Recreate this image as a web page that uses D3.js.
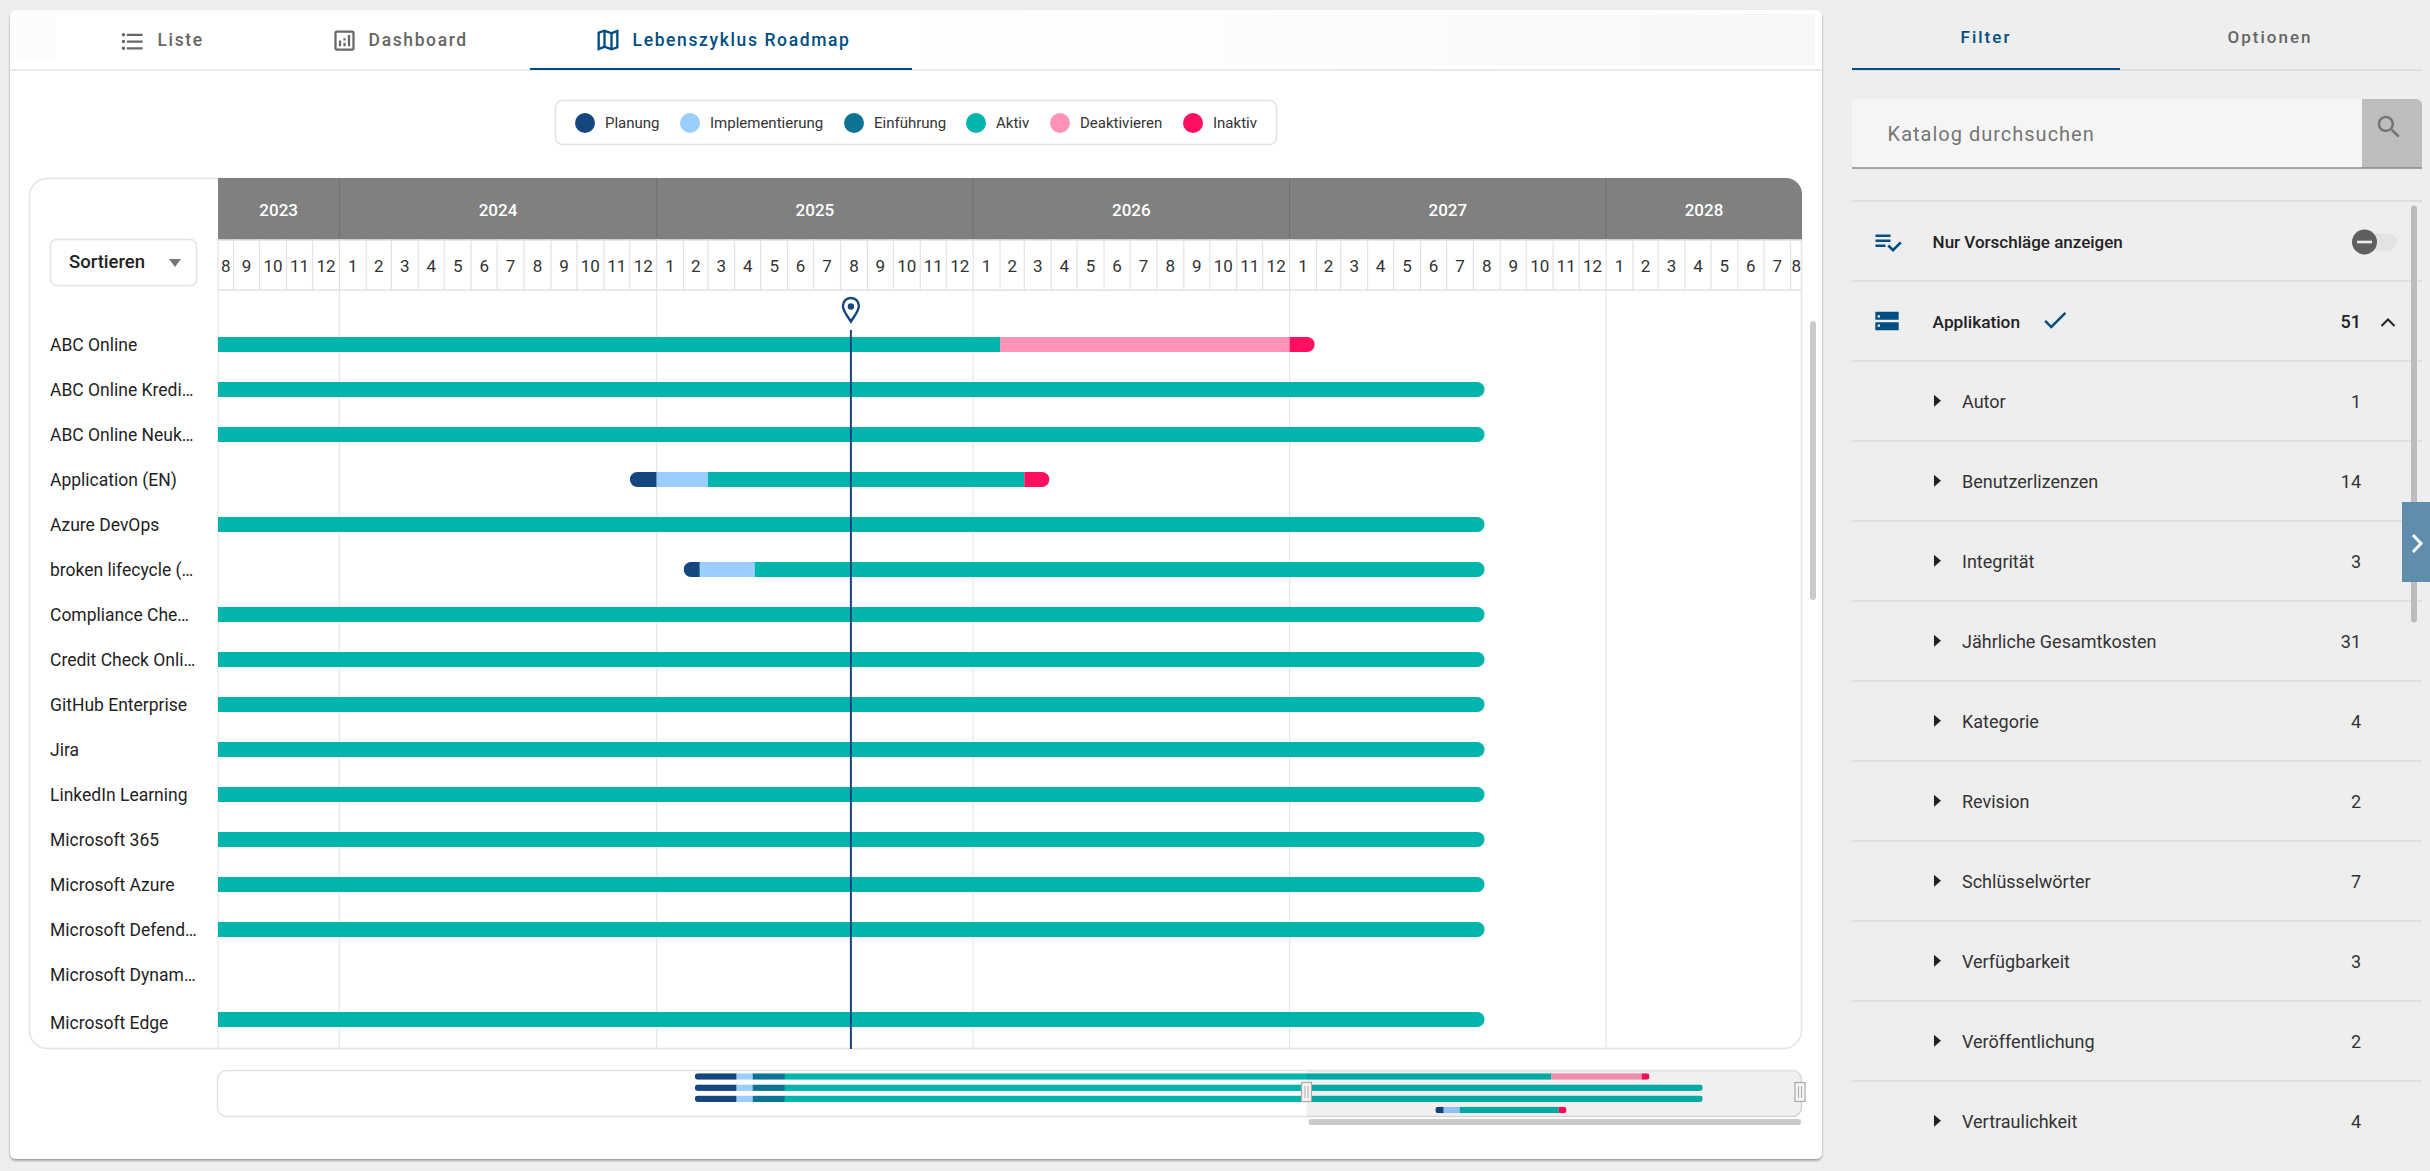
<!DOCTYPE html>
<html>
<head>
  <meta charset="utf-8">
  <title>Lebenszyklus Roadmap</title>
  <style>
    html, body { margin: 0; padding: 0; background: #eeeeee; overflow: hidden; }
    svg { display: block; font-family: Roboto, sans-serif; }
  </style>
</head>
<body>
  <div id="chart"></div>
  <script src="https://cdn.jsdelivr.net/npm/d3@7"></script>
  <script type="text/javascript">
    var w = 2430;
    var h = 1171;

    // ---- data ----
    var phaseNames = ["Planung", "Implementierung", "Einführung", "Aktiv", "Deaktivieren", "Inaktiv"];
    var rowLabels = ["ABC Online", "ABC Online Kredi…", "ABC Online Neuk…", "Application (EN)", "Azure DevOps",
      "broken lifecycle (…", "Compliance Che…", "Credit Check Onli…", "GitHub Enterprise", "Jira",
      "LinkedIn Learning", "Microsoft 365", "Microsoft Azure", "Microsoft Defend…", "Microsoft Dynam…", "Microsoft Edge"];
    var earlyLife = [["Planung", "2017-06-11"], ["Implementierung", "2017-11-12"], ["Einführung", "2018-01-10"]];
    var lifecycles = [
      earlyLife.concat([["Aktiv", "2018-05-09"], ["Deaktivieren", "2026-02-01"], ["Inaktiv", "2027-01-01"]]),
      earlyLife.concat([["Aktiv", "2018-05-09"]]),
      earlyLife.concat([["Aktiv", "2018-05-09"]]),
      [["Planung", "2024-12-01"], ["Implementierung", "2025-01-01"], ["Aktiv", "2025-03-01"], ["Inaktiv", "2026-03-01"]],
      [["Aktiv", "2022-06-01"]],
      [["Planung", "2025-02-01"], ["Einführung", "2025-02-19"], ["Implementierung", "2025-02-20"], ["Aktiv", "2025-04-24"]],
      [["Aktiv", "2022-06-01"]],
      [["Aktiv", "2022-06-01"]],
      [["Aktiv", "2022-06-01"]],
      [["Aktiv", "2022-06-01"]],
      [["Aktiv", "2022-06-01"]],
      [["Aktiv", "2022-06-01"]],
      [["Aktiv", "2022-06-01"]],
      [["Aktiv", "2022-06-01"]],
      [],
      [["Aktiv", "2022-06-01"]]
    ];
    // end of the last phase of each row
    var lifecycleEnds = ["2027-01-30", "2027-08-14", "2027-08-14", "2026-03-30", "2027-08-14", "2027-08-14", "2027-08-14",
      "2027-08-14", "2027-08-14", "2027-08-14", "2027-08-14", "2027-08-14", "2027-08-14", "2027-08-14", null, "2027-08-14"];
    var viewStart = "2023-08-14";
    var viewEnd = "2028-08-14";
    var overviewStart = "2012-08-14";
    var today = "2025-08-13";
    var years = [2023, 2024, 2025, 2026, 2027, 2028];
    var monthLabels = ["1", "2", "3", "4", "5", "6", "7", "8", "9", "10", "11", "12"];

    var tabLabels = ["Liste", "Dashboard", "Lebenszyklus Roadmap"];
    var sideTabs = ["Filter", "Optionen"];
    var filterLabels = ["Autor", "Benutzerlizenzen", "Integrität", "Jährliche Gesamtkosten", "Kategorie",
      "Revision", "Schlüsselwörter", "Verfügbarkeit", "Veröffentlichung", "Vertraulichkeit"];
    var filterCounts = [1, 14, 3, 31, 4, 2, 7, 3, 2, 4];

    // ---- helpers ----
    var parse = d3.utcParse("%Y-%m-%d");
    var navy = "#15467f";
    var blue = "#004e82";

    var svg = d3.select("#chart")
      .append("svg")
      .attr("width", w)
      .attr("height", h);

    var defs = svg.append("defs");

    var color = d3.scaleOrdinal()
      .domain(phaseNames)
      .range(["#15467f", "#9bceff", "#0e7392", "#01b5ad", "#ff94b8", "#ff0f5f"]);

    // expands a lifecycle into [{phase, start, end}]
    function segments(i) {
      return lifecycles[i].map(function(d, j) {
        var next = j + 1 < lifecycles[i].length ? lifecycles[i][j + 1][1] : lifecycleEnds[i];
        return { phase: d[0], start: parse(d[1]), end: parse(next) };
      });
    }

    var clipCount = 0;
    function drawRow(g, i, x, yMid, barH, rx) {
      var segs = segments(i);
      if (!segs.length) return;
      var id = "bar" + (clipCount++);
      defs.append("clipPath").attr("id", id)
        .append("rect")
        .attr("x", x(segs[0].start))
        .attr("y", yMid - barH / 2)
        .attr("width", x(segs[segs.length - 1].end) - x(segs[0].start))
        .attr("height", barH)
        .attr("rx", rx);
      g.append("g").attr("clip-path", "url(#" + id + ")")
        .selectAll("rect")
        .data(segs)
        .enter()
        .append("rect")
        .attr("x", function(d) { return x(d.start); })
        .attr("y", yMid - barH / 2)
        .attr("width", function(d) { return x(d.end) - x(d.start); })
        .attr("height", barH)
        .attr("fill", function(d) { return color(d.phase); });
    }

    function icon(path, x, y, size, fill) {
      svg.append("path")
        .attr("d", path)
        .attr("transform", "translate(" + x + "," + y + ") scale(" + size / 24 + ")")
        .attr("fill", fill);
    }

    // ---- card ----
    defs.append("filter").attr("id", "cardShadow")
      .attr("x", "-2%").attr("y", "-2%").attr("width", "104%").attr("height", "104%")
      .append("feDropShadow")
      .attr("dx", 0).attr("dy", 1.5).attr("stdDeviation", 1)
      .attr("flood-color", "#000").attr("flood-opacity", 0.4);

    svg.append("rect")
      .attr("x", 10).attr("y", 10).attr("width", 1812).attr("height", 1149)
      .attr("rx", 6).attr("fill", "#fff").attr("filter", "url(#cardShadow)");

    // faint blurred leftovers in the tab bar
    var fade = defs.append("linearGradient").attr("id", "tabFade");
    fade.append("stop").attr("offset", "0%").attr("stop-color", "#fafafa").attr("stop-opacity", 0);
    fade.append("stop").attr("offset", "100%").attr("stop-color", "#f7f7f7").attr("stop-opacity", 1);
    svg.append("rect").attr("x", 920).attr("y", 14).attr("width", 895).attr("height", 52).attr("fill", "url(#tabFade)");
    svg.append("rect").attr("x", 14).attr("y", 16).attr("width", 42).attr("height", 44).attr("fill", "#fcfcfc");

    // ---- tabs ----
    svg.append("line").attr("x1", 10).attr("x2", 1822).attr("y1", 70).attr("y2", 70)
      .attr("stroke", "#e3e3e3").attr("stroke-width", 1.5);
    svg.append("rect").attr("x", 530).attr("y", 68).attr("width", 382).attr("height", 2).attr("fill", blue);

    var tabX = [157.5, 368.6, 632.6];
    svg.selectAll("text.tab")
      .data(tabLabels)
      .enter()
      .append("text")
      .attr("class", "tab")
      .attr("x", function(d, i) { return tabX[i]; })
      .attr("y", 40)
      .attr("dy", "0.35em")
      .attr("font-size", 17.5)
      .attr("font-weight", 500)
      .attr("letter-spacing", 1.62)
      .attr("fill", function(d, i) { return i === 2 ? blue : "#666"; })
      .text(function(d) { return d; });

    icon("M4 10.5c-.83 0-1.5.67-1.5 1.5s.67 1.5 1.5 1.5 1.5-.67 1.5-1.5-.67-1.5-1.5-1.5zm0-6c-.83 0-1.5.67-1.5 1.5S3.17 7.5 4 7.5 5.5 6.83 5.5 6 4.83 4.5 4 4.5zm0 12c-.83 0-1.5.68-1.5 1.5s.68 1.5 1.5 1.5 1.5-.68 1.5-1.5-.67-1.5-1.5-1.5zM7 19h14v-2H7v2zm0-6h14v-2H7v2zm0-8v2h14V5H7z", 119, 28, 27, "#666");
    icon("M9 17H7v-5h2v5zm4 0h-2v-3h2v3zm0-5h-2v-2h2v2zm4 5h-2V7h2v10zm2 2H5V5h14v14zm0-16H5c-1.1 0-2 .9-2 2v14c0 1.1.9 2 2 2h14c1.1 0 2-.9 2-2V5c0-1.1-.9-2-2-2z", 331, 27, 27, "#666");
    icon("M20.5 3l-.16.03L15 5.1 9 3 3.36 4.9c-.21.07-.36.25-.36.48V20.5c0 .28.22.5.5.5l.16-.03L9 18.9l6 2.1 5.64-1.9c.21-.07.36-.25.36-.48V3.5c0-.28-.22-.5-.5-.5zM10 5.47l4 1.4v11.66l-4-1.4V5.47zm-5 .99l3-1.01v11.7l-3 1.16V6.46zm14 11.08l-3 1.01V6.86l3-1.16v11.84z", 594, 26, 28, blue);

    // ---- legend ----
    svg.append("rect")
      .attr("x", 555.5).attr("y", 100.5).attr("width", 721).attr("height", 44)
      .attr("rx", 7).attr("fill", "#fff").attr("stroke", "#e2e2e2").attr("stroke-width", 1.5);

    var legendX = [585, 690, 854, 976, 1060, 1193];
    var legend = svg.selectAll("g.legend")
      .data(phaseNames)
      .enter()
      .append("g")
      .attr("class", "legend")
      .attr("transform", function(d, i) { return "translate(" + legendX[i] + ",123)"; });
    legend.append("circle").attr("r", 10).attr("fill", function(d) { return color(d); });
    legend.append("text")
      .attr("x", 20)
      .attr("dy", "0.35em")
      .attr("font-size", 15)
      .attr("fill", "#333")
      .text(function(d) { return d; });

    // ---- chart frame ----
    var plotLeft = 218, plotRight = 1802, plotTop = 178, yearBottom = 239, monthBottom = 290, plotBottom = 1049;

    svg.append("rect")
      .attr("x", 29.5).attr("y", 178.5).attr("width", 1772).attr("height", 870)
      .attr("rx", 18).attr("fill", "#fff").attr("stroke", "#e4e4e4").attr("stroke-width", 1.5);

    var x = d3.scaleUtc().domain([parse(viewStart), parse(viewEnd)]).range([plotLeft, plotRight]);

    defs.append("clipPath").attr("id", "plotClip")
      .append("rect").attr("x", plotLeft).attr("y", plotTop).attr("width", plotRight - plotLeft).attr("height", plotBottom - plotTop);

    // year band: square on the left, rounded on the top right
    var r = 16;
    var yearPath = d3.path();
    yearPath.moveTo(plotLeft, plotTop);
    yearPath.lineTo(plotRight - r, plotTop);
    yearPath.arcTo(plotRight, plotTop, plotRight, plotTop + r, r);
    yearPath.lineTo(plotRight, yearBottom);
    yearPath.lineTo(plotLeft, yearBottom);
    yearPath.closePath();
    svg.append("path").attr("d", yearPath.toString()).attr("fill", "#808080");

    function yearSpan(y) {
      var a = new Date(Date.UTC(y, 0, 1)), b = new Date(Date.UTC(y + 1, 0, 1));
      var dom = x.domain();
      return [a < dom[0] ? dom[0] : a, b > dom[1] ? dom[1] : b];
    }

    svg.selectAll("text.year")
      .data(years)
      .enter()
      .append("text")
      .attr("class", "year")
      .attr("x", function(d) { var s = yearSpan(d); return (x(s[0]) + x(s[1])) / 2; })
      .attr("y", (plotTop + yearBottom) / 2 + 2)
      .attr("dy", "0.35em")
      .attr("text-anchor", "middle")
      .attr("font-size", 17)
      .attr("font-weight", 500)
      .attr("fill", "#fff")
      .text(function(d) { return d; });

    var yearStarts = years.slice(1).map(function(d) { return new Date(Date.UTC(d, 0, 1)); });

    svg.selectAll("line.yearSep")
      .data(yearStarts)
      .enter()
      .append("line")
      .attr("class", "yearSep")
      .attr("x1", function(d) { return x(d); })
      .attr("x2", function(d) { return x(d); })
      .attr("y1", plotTop)
      .attr("y2", yearBottom)
      .attr("stroke", "#6f6f6f");

    // months
    var monthStarts = [x.domain()[0]].concat(d3.utcMonth.range(x.domain()[0], x.domain()[1]));
    var months = monthStarts.map(function(d, i) {
      var end = i + 1 < monthStarts.length ? monthStarts[i + 1] : x.domain()[1];
      return { start: d, end: end, label: monthLabels[d.getUTCMonth()] };
    });

    svg.append("rect").attr("x", plotLeft).attr("y", yearBottom).attr("width", plotRight - plotLeft).attr("height", 1.5).attr("fill", "#cfcfcf");

    svg.selectAll("line.monthSep")
      .data(months)
      .enter()
      .append("line")
      .attr("class", "monthSep")
      .attr("x1", function(d) { return x(d.start); })
      .attr("x2", function(d) { return x(d.start); })
      .attr("y1", yearBottom)
      .attr("y2", monthBottom)
      .attr("stroke", "#e3e3e3")
      .attr("stroke-width", 1.2);

    svg.selectAll("text.month")
      .data(months)
      .enter()
      .append("text")
      .attr("class", "month")
      .attr("x", function(d) { return (x(d.start) + x(d.end)) / 2; })
      .attr("y", 266)
      .attr("dy", "0.35em")
      .attr("text-anchor", "middle")
      .attr("font-size", 17)
      .attr("fill", "#333")
      .text(function(d) { return d.label; });

    svg.append("line").attr("x1", plotLeft).attr("x2", plotRight).attr("y1", monthBottom).attr("y2", monthBottom)
      .attr("stroke", "#e0e0e0").attr("stroke-width", 1.5);

    // grid
    svg.selectAll("line.grid")
      .data(yearStarts)
      .enter()
      .append("line")
      .attr("class", "grid")
      .attr("x1", function(d) { return x(d); })
      .attr("x2", function(d) { return x(d); })
      .attr("y1", monthBottom)
      .attr("y2", plotBottom)
      .attr("stroke", "#e6e6e6")
      .attr("stroke-width", 1.2);
    svg.append("line").attr("x1", plotLeft).attr("x2", plotLeft).attr("y1", monthBottom).attr("y2", plotBottom)
      .attr("stroke", "#e6e6e6").attr("stroke-width", 1.2);

    // sort control
    svg.append("rect")
      .attr("x", 50.5).attr("y", 239.5).attr("width", 146).attr("height", 46)
      .attr("rx", 6).attr("fill", "#fff").attr("stroke", "#e4e4e4").attr("stroke-width", 1.5);
    svg.append("text")
      .attr("x", 69).attr("y", 262).attr("dy", "0.35em")
      .attr("font-size", 18.5).attr("font-weight", 500).attr("fill", "#222")
      .text("Sortieren");
    svg.append("path").attr("d", "M169 259h12l-6 8z").attr("fill", "#777");

    // ---- rows ----
    var y = d3.scalePoint().domain(d3.range(rowLabels.length)).range([344.5, 1019.5]);

    svg.selectAll("text.row")
      .data(rowLabels)
      .enter()
      .append("text")
      .attr("class", "row")
      .attr("x", 50)
      .attr("y", function(d, i) { return y(i) + (i === rowLabels.length - 1 ? 3.5 : 0); })
      .attr("dy", "0.35em")
      .attr("font-size", 17.5)
      .attr("fill", "#1f1f1f")
      .text(function(d) { return d; });

    var bars = svg.append("g").attr("clip-path", "url(#plotClip)");
    rowLabels.forEach(function(d, i) {
      drawRow(bars, i, x, y(i), 15, 7.5);
    });

    // today marker
    var todayX = x(parse(today));
    svg.append("line")
      .attr("x1", todayX).attr("x2", todayX).attr("y1", 330).attr("y2", plotBottom)
      .attr("stroke", navy).attr("stroke-width", 2);
    svg.append("path")
      .attr("transform", "translate(" + todayX + ",298)")
      .attr("d", "M0 0C-4.9 0-8 3.6-8 8C-8 13-2.5 19.5 0 23.5C2.5 19.5 8 13 8 8C8 3.6 4.9 0 0 0Z")
      .attr("fill", "none")
      .attr("stroke", navy)
      .attr("stroke-width", 2.4);
    svg.append("circle").attr("cx", todayX).attr("cy", 306.5).attr("r", 3.2).attr("fill", navy);

    // ---- overview strip ----
    var miniRows = d3.range(4);
    var miniX = d3.scaleUtc().domain([parse(overviewStart), parse(viewEnd)]).range([plotLeft - 1, plotRight]);
    var miniY = d3.scalePoint().domain(miniRows).range([1076.5, 1110]);

    svg.append("rect")
      .attr("x", 217.5).attr("y", 1070.5).attr("width", 1584).attr("height", 46)
      .attr("rx", 9).attr("fill", "#fff").attr("stroke", "#e2e2e2").attr("stroke-width", 1.5);

    var miniBars = svg.append("g");
    miniRows.forEach(function(i) {
      drawRow(miniBars, i, miniX, miniY(i), 6.5, 3.25);
    });

    // dimmed part of the strip, from the start of the visible window
    var brushX = miniX(parse(viewStart));
    var dimPath = d3.path();
    dimPath.moveTo(brushX, 1071);
    dimPath.lineTo(plotRight - 9, 1071);
    dimPath.arcTo(plotRight, 1071, plotRight, 1080, 9);
    dimPath.lineTo(plotRight, 1108);
    dimPath.arcTo(plotRight, 1117, plotRight - 9, 1117, 9);
    dimPath.lineTo(brushX, 1117);
    dimPath.closePath();
    svg.append("path").attr("d", dimPath.toString()).attr("fill", "#000").attr("opacity", 0.06);

    [brushX, plotRight - 2].forEach(function(d) {
      svg.append("rect").attr("x", d - 5).attr("y", 1082.5).attr("width", 10).attr("height", 19)
        .attr("fill", "#f4f4f4").attr("stroke", "#aaa").attr("stroke-width", 1.2);
      svg.append("path").attr("d", "M" + (d - 1.5) + " 1086V1098M" + (d + 1.5) + " 1086V1098")
        .attr("stroke", "#aaa").attr("stroke-width", 1);
    });

    svg.append("rect")
      .attr("x", brushX + 2).attr("y", 1119).attr("width", plotRight - brushX - 3).attr("height", 6)
      .attr("rx", 3).attr("fill", "#cbcbcb");

    // card scrollbar
    svg.append("rect").attr("x", 1810).attr("y", 321).attr("width", 6).attr("height", 279)
      .attr("rx", 3).attr("fill", "#cbcbcb");

    // ---- side panel ----
    var panelL = 1852, panelR = 2422;
    var sideX = [1986, 2270];
    svg.selectAll("text.sideTab")
      .data(sideTabs)
      .enter()
      .append("text")
      .attr("class", "sideTab")
      .attr("x", function(d, i) { return sideX[i]; })
      .attr("y", 37.5)
      .attr("dy", "0.35em")
      .attr("text-anchor", "middle")
      .attr("font-size", 17)
      .attr("font-weight", 500)
      .attr("letter-spacing", 2)
      .attr("fill", function(d, i) { return i === 0 ? blue : "#666"; })
      .text(function(d) { return d; });
    svg.append("line").attr("x1", panelL).attr("x2", panelR).attr("y1", 70).attr("y2", 70)
      .attr("stroke", "#cfcfcf").attr("stroke-width", 1.2);
    svg.append("rect").attr("x", panelL).attr("y", 68).attr("width", 268).attr("height", 2).attr("fill", blue);

    // search field
    svg.append("path").attr("d", "M" + panelL + " 168V105a6 6 0 0 1 6-6H" + (panelR - 6) + "a6 6 0 0 1 6 6V168Z").attr("fill", "#f5f5f5");
    svg.append("path").attr("d", "M2362 168V99H" + (panelR - 6) + "a6 6 0 0 1 6 6V168Z").attr("fill", "#bdbdbd");
    svg.append("line").attr("x1", panelL).attr("x2", panelR).attr("y1", 168).attr("y2", 168)
      .attr("stroke", "#8a8a8a").attr("stroke-width", 1.5);
    svg.append("text")
      .attr("x", 1887.6).attr("y", 134).attr("dy", "0.35em")
      .attr("font-size", 20).attr("letter-spacing", 1).attr("fill", "#757575")
      .text("Katalog durchsuchen");
    icon("M15.5 14h-.79l-.28-.27C15.41 12.59 16 11.11 16 9.5 16 5.91 13.09 3 9.5 3S3 5.91 3 9.5 5.91 16 9.5 16c1.61 0 3.09-.59 4.23-1.57l.27.28v.79l5 4.99L20.49 19l-4.99-5zm-6 0C7.01 14 5 11.99 5 9.5S7.01 5 9.5 5 14 7.01 14 9.5 11.99 14 9.5 14z", 2374, 112, 30, "#757575");

    // filter list
    var dividerY = d3.range(12).map(function(k) { return 201 + k * 80; });
    svg.selectAll("line.divider")
      .data(dividerY)
      .enter()
      .append("line")
      .attr("class", "divider")
      .attr("x1", panelL).attr("x2", panelR)
      .attr("y1", function(d) { return d; }).attr("y2", function(d) { return d; })
      .attr("stroke", "#d0d0d0").attr("stroke-width", 1.2);

    svg.append("text")
      .attr("x", 1932.6).attr("y", 242).attr("dy", "0.35em")
      .attr("font-size", 17).attr("font-weight", 500).attr("fill", "#222")
      .text("Nur Vorschläge anzeigen");
    icon("M14 10H2v2h12v-2zm0-4H2v2h12V6zM2 16h8v-2H2v2zm19.5-4.5L23 13l-6.99 7-4.51-4.5L13 14l3.01 3 5.49-5.5z", 1873, 227, 30, blue);

    svg.append("rect").attr("x", 2352).attr("y", 233.5).attr("width", 45).attr("height", 17).attr("rx", 8.5).attr("fill", "#e3e3e3");
    svg.append("circle").attr("cx", 2364.5).attr("cy", 242).attr("r", 12.5).attr("fill", "#5f5f5f");
    svg.append("rect").attr("x", 2357).attr("y", 240.7).attr("width", 15).attr("height", 2.6).attr("fill", "#eee");

    svg.append("text")
      .attr("x", 1932.6).attr("y", 321.7).attr("dy", "0.35em")
      .attr("font-size", 17.3).attr("font-weight", 500).attr("fill", "#222")
      .text("Applikation");
    icon("M2 20h20v-7H2v7zm2-5h2v2H4v-2zM2 4v7h20V4H2zm4 5H4V7h2v2z", 1873, 307, 28, blue);
    icon("M9 16.17L4.83 12l-1.42 1.41L9 19 21 7l-1.41-1.41z", 2040, 305, 30, blue);
    svg.append("text")
      .attr("x", 2361).attr("y", 321.7).attr("dy", "0.35em").attr("text-anchor", "end")
      .attr("font-size", 18).attr("font-weight", 500).attr("fill", "#222")
      .text(51);
    svg.append("path").attr("d", "M2381.5 326L2388 319.5L2394.5 326").attr("fill", "none").attr("stroke", "#222").attr("stroke-width", 2);

    var filterY = d3.scalePoint().domain(d3.range(filterLabels.length)).range([401.7, 1121.7]);
    svg.selectAll("text.filter")
      .data(filterLabels)
      .enter()
      .append("text")
      .attr("class", "filter")
      .attr("x", 1962)
      .attr("y", function(d, i) { return filterY(i); })
      .attr("dy", "0.35em")
      .attr("font-size", 18)
      .attr("fill", "#333")
      .text(function(d) { return d; });
    svg.selectAll("text.count")
      .data(filterCounts)
      .enter()
      .append("text")
      .attr("class", "count")
      .attr("x", 2361)
      .attr("y", function(d, i) { return filterY(i); })
      .attr("dy", "0.35em")
      .attr("text-anchor", "end")
      .attr("font-size", 18)
      .attr("fill", "#333")
      .text(function(d) { return d; });
    svg.selectAll("path.caret")
      .data(filterLabels)
      .enter()
      .append("path")
      .attr("class", "caret")
      .attr("transform", function(d, i) { return "translate(1934," + (filterY(i) - 1) + ")"; })
      .attr("d", "M0 -6L7 0L0 6Z")
      .attr("fill", "#222");

    // list scrollbar and collapse handle
    svg.append("rect").attr("x", 2411).attr("y", 205.5).attr("width", 6).attr("height", 417).attr("rx", 3).attr("fill", "#bcbcbc");
    svg.append("rect").attr("x", 2402).attr("y", 502).attr("width", 28).attr("height", 80).attr("fill", "#5f8dae");
    svg.append("path").attr("d", "M2413 535L2421 543.5L2413 552").attr("fill", "none").attr("stroke", "#fff").attr("stroke-width", 3);
  </script>
</body>
</html>
